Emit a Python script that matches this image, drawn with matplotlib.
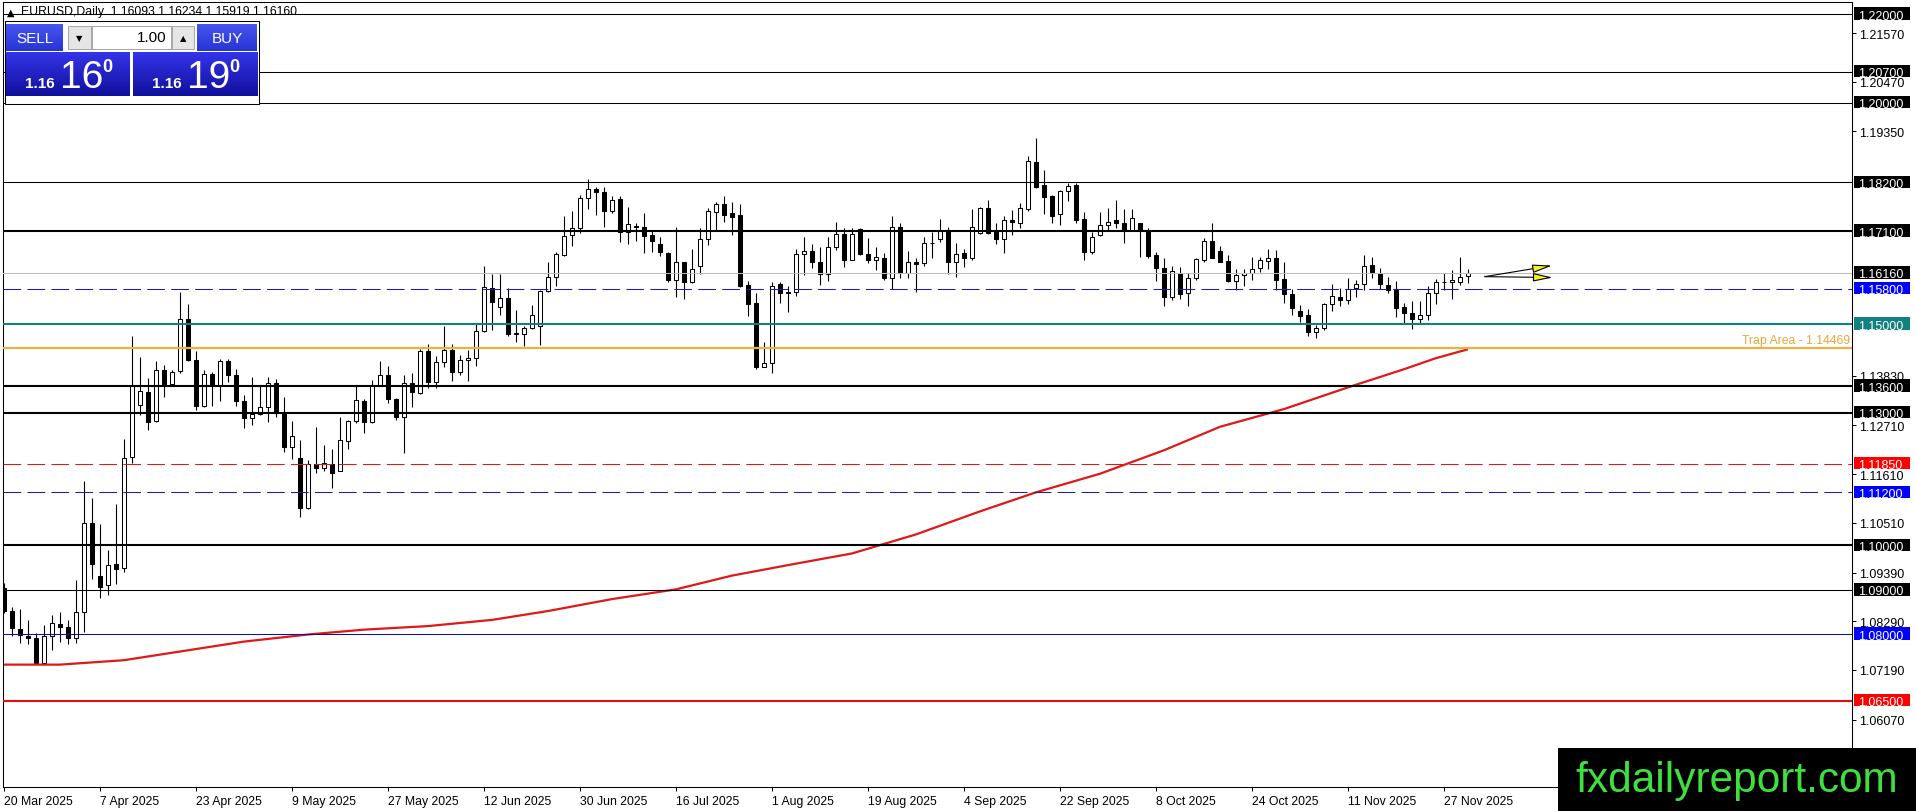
import numpy as np
import matplotlib
matplotlib.use("Agg")
import matplotlib.pyplot as plt
from matplotlib.patches import Rectangle, FancyArrowPatch
import matplotlib.transforms as mtrans

plt.rcParams['font.family'] = ['Liberation Sans', 'DejaVu Sans']

W, H = 1916, 812

# ---------------- data (EURUSD daily) ----------------
opens = [1.0904, 1.0851, 1.0811, 1.0796, 1.0791, 1.0734, 1.0796, 1.0823, 1.0816, 1.0791,
         1.0849, 1.1050, 1.0931, 1.0910, 1.0959, 1.0949, 1.1199, 1.1317, 1.1347, 1.1280,
         1.1397, 1.1364, 1.1395, 1.1511, 1.1419, 1.1314, 1.1387, 1.1362, 1.1417, 1.1385,
         1.1327, 1.1288, 1.1297, 1.1312, 1.1367, 1.1299, 1.1222, 1.1197, 1.1085, 1.1184,
         1.1174, 1.1185, 1.1168, 1.1237, 1.1280, 1.1327, 1.1278, 1.1361, 1.1385, 1.1331,
         1.1290, 1.1367, 1.1344, 1.1440, 1.1369, 1.1414, 1.1441, 1.1392, 1.1419, 1.1423,
         1.1484, 1.1582, 1.1539, 1.1559, 1.1478, 1.1478, 1.1490, 1.1495, 1.1575, 1.1606,
         1.1655, 1.1700, 1.1717, 1.1785, 1.1804, 1.1797, 1.1755, 1.1783, 1.1707, 1.1722,
         1.1718, 1.1700, 1.1680, 1.1661, 1.1600, 1.1639, 1.1594, 1.1631, 1.1691, 1.1752,
         1.1770, 1.1750, 1.1747, 1.1588, 1.1547, 1.1403, 1.1413, 1.1590, 1.1569, 1.1573,
         1.1657, 1.1664, 1.1639, 1.1613, 1.1673, 1.1704, 1.1645, 1.1714, 1.1659, 1.1645,
         1.1650, 1.1604, 1.1718, 1.1615, 1.1641, 1.1637, 1.1684, 1.1693, 1.1710, 1.1639,
         1.1661, 1.1648, 1.1705, 1.1761, 1.1710, 1.1693, 1.1734, 1.1729, 1.1759, 1.1865,
         1.1813, 1.1788, 1.1749, 1.1801, 1.1813, 1.1737, 1.1663, 1.1701, 1.1724, 1.1734,
         1.1729, 1.1712, 1.1727, 1.1710, 1.1655, 1.1627, 1.1562, 1.1616, 1.1569, 1.1603,
         1.1644, 1.1687, 1.1664, 1.1642, 1.1597, 1.1610, 1.1616, 1.1627, 1.1643, 1.1650,
         1.1601, 1.1568, 1.1530, 1.1520, 1.1481, 1.1490, 1.1546, 1.1560, 1.1554, 1.1582,
         1.1591, 1.1633, 1.1616, 1.1589, 1.1580, 1.1539, 1.1526, 1.1511, 1.1520, 1.1569,
         1.1594, 1.1596, 1.1594, 1.16093]
highs = [1.0915, 1.0861, 1.0856, 1.0831, 1.0802, 1.0821, 1.0843, 1.0849, 1.0831, 1.0922,
         1.1146, 1.1107, 1.1049, 1.0990, 1.1094, 1.1240, 1.1473, 1.1425, 1.1378, 1.1417,
         1.1408, 1.1397, 1.1573, 1.1546, 1.1440, 1.1397, 1.1391, 1.1422, 1.1421, 1.1399,
         1.1340, 1.1380, 1.1362, 1.1380, 1.1377, 1.1335, 1.1282, 1.1239, 1.1194, 1.1267,
         1.1228, 1.1218, 1.1290, 1.1284, 1.1362, 1.1331, 1.1374, 1.1417, 1.1406, 1.1332,
         1.1384, 1.1390, 1.1444, 1.1454, 1.1427, 1.1495, 1.1456, 1.1431, 1.1442, 1.1502,
         1.1632, 1.1614, 1.1614, 1.1582, 1.1531, 1.1495, 1.1544, 1.1576, 1.1641, 1.1663,
         1.1745, 1.1755, 1.1792, 1.1828, 1.1810, 1.1810, 1.1788, 1.1789, 1.1765, 1.1729,
         1.1750, 1.1713, 1.1697, 1.1663, 1.1720, 1.1640, 1.1670, 1.1716, 1.1761, 1.1776,
         1.1788, 1.1776, 1.1771, 1.1598, 1.1571, 1.1460, 1.1596, 1.1595, 1.1586, 1.1669,
         1.1697, 1.1680, 1.1675, 1.1697, 1.1731, 1.1716, 1.1716, 1.1716, 1.1695, 1.1673,
         1.1661, 1.1743, 1.1727, 1.1664, 1.1648, 1.1697, 1.1708, 1.1737, 1.1718, 1.1682,
         1.1669, 1.1759, 1.1765, 1.1780, 1.1729, 1.1744, 1.1758, 1.1774, 1.1880, 1.1919,
         1.1847, 1.1792, 1.1803, 1.1819, 1.1819, 1.1754, 1.1707, 1.1754, 1.1761, 1.1780,
         1.1759, 1.1759, 1.1729, 1.1716, 1.1663, 1.1648, 1.1631, 1.1629, 1.1615, 1.1649,
         1.1694, 1.1728, 1.1676, 1.1655, 1.1624, 1.1624, 1.1652, 1.1652, 1.1669, 1.1667,
         1.1639, 1.1578, 1.1542, 1.1533, 1.1497, 1.1548, 1.1590, 1.1582, 1.1605, 1.1599,
         1.1655, 1.1652, 1.1627, 1.1607, 1.1597, 1.1548, 1.1551, 1.1552, 1.1585, 1.1601,
         1.1616, 1.1622, 1.1652, 1.16234]
lows = [1.0848, 1.0796, 1.0779, 1.0778, 1.0733, 1.0731, 1.0763, 1.0781, 1.0778, 1.0779,
        1.0804, 1.0924, 1.0881, 1.0888, 1.0913, 1.0941, 1.1187, 1.1295, 1.1261, 1.1278,
        1.1335, 1.1362, 1.1389, 1.1416, 1.1306, 1.1312, 1.1314, 1.1327, 1.1368, 1.1314,
        1.1265, 1.1271, 1.1294, 1.1278, 1.1290, 1.1210, 1.1195, 1.1064, 1.1083, 1.1164,
        1.1169, 1.1130, 1.1168, 1.1217, 1.1277, 1.1254, 1.1277, 1.1359, 1.1322, 1.1283,
        1.1209, 1.1312, 1.1343, 1.1356, 1.1356, 1.1403, 1.1371, 1.1384, 1.1371, 1.1405,
        1.1481, 1.1487, 1.1521, 1.1472, 1.1459, 1.1450, 1.1489, 1.1452, 1.1573, 1.1587,
        1.1653, 1.1677, 1.1706, 1.1760, 1.1746, 1.1718, 1.1750, 1.1685, 1.1681, 1.1688,
        1.1660, 1.1663, 1.1654, 1.1594, 1.1562, 1.1557, 1.1592, 1.1612, 1.1678, 1.1710,
        1.1731, 1.1700, 1.1584, 1.1518, 1.1398, 1.1402, 1.1390, 1.1547, 1.1527, 1.1563,
        1.1610, 1.1627, 1.1588, 1.1597, 1.1667, 1.1629, 1.1644, 1.1655, 1.1637, 1.1622,
        1.1600, 1.1580, 1.1603, 1.1603, 1.1572, 1.1631, 1.1650, 1.1685, 1.1612, 1.1607,
        1.1629, 1.1645, 1.1703, 1.1703, 1.1680, 1.1660, 1.1700, 1.1716, 1.1755, 1.1808,
        1.1749, 1.1729, 1.1723, 1.1778, 1.1727, 1.1645, 1.1658, 1.1699, 1.1712, 1.1716,
        1.1684, 1.1710, 1.1652, 1.1648, 1.1597, 1.1541, 1.1554, 1.1557, 1.1541, 1.1600,
        1.1640, 1.1648, 1.1639, 1.1594, 1.1577, 1.1585, 1.1600, 1.1618, 1.1624, 1.1577,
        1.1547, 1.1520, 1.1505, 1.1472, 1.1469, 1.1487, 1.1530, 1.1541, 1.1545, 1.1560,
        1.1577, 1.1605, 1.1580, 1.1569, 1.1517, 1.1502, 1.1488, 1.1502, 1.1509, 1.1545,
        1.1577, 1.1556, 1.1588, 1.15919]
closes = [1.0851, 1.0813, 1.0798, 1.0790, 1.0734, 1.0796, 1.0825, 1.0816, 1.0791, 1.0849,
          1.1050, 1.0959, 1.0907, 1.0955, 1.0948, 1.1197, 1.1359, 1.1349, 1.1279, 1.1397,
          1.1364, 1.1391, 1.1511, 1.1418, 1.1314, 1.1387, 1.1359, 1.1417, 1.1384, 1.1327,
          1.1288, 1.1297, 1.1312, 1.1366, 1.1300, 1.1222, 1.1248, 1.1084, 1.1183, 1.1174,
          1.1186, 1.1164, 1.1238, 1.1280, 1.1329, 1.1278, 1.1362, 1.1385, 1.1331, 1.1290,
          1.1367, 1.1346, 1.1440, 1.1369, 1.1414, 1.1441, 1.1392, 1.1418, 1.1423, 1.1484,
          1.1584, 1.1549, 1.1559, 1.1478, 1.1479, 1.1491, 1.1521, 1.1575, 1.1606, 1.1658,
          1.1698, 1.1717, 1.1785, 1.1804, 1.1797, 1.1755, 1.1780, 1.1707, 1.1725, 1.1719,
          1.1699, 1.1688, 1.1663, 1.1600, 1.1639, 1.1595, 1.1624, 1.1693, 1.1755, 1.1770,
          1.1747, 1.1742, 1.1586, 1.1545, 1.1403, 1.1413, 1.1586, 1.1571, 1.1573, 1.1659,
          1.1664, 1.1640, 1.1613, 1.1673, 1.1704, 1.1645, 1.1704, 1.1658, 1.1645, 1.1651,
          1.1605, 1.1720, 1.1615, 1.1640, 1.1636, 1.1682, 1.1682, 1.1710, 1.1639, 1.1658,
          1.1648, 1.1718, 1.1763, 1.1705, 1.1693, 1.1734, 1.1731, 1.1761, 1.1867, 1.1810,
          1.1787, 1.1744, 1.1801, 1.1812, 1.1735, 1.1663, 1.1697, 1.1724, 1.1731, 1.1729,
          1.1712, 1.1740, 1.1712, 1.1654, 1.1627, 1.1561, 1.1620, 1.1567, 1.1605, 1.1646,
          1.1687, 1.1649, 1.1640, 1.1597, 1.1610, 1.1616, 1.1625, 1.1644, 1.1650, 1.1600,
          1.1568, 1.1536, 1.1518, 1.1481, 1.1490, 1.1546, 1.1563, 1.1554, 1.1580, 1.1591,
          1.1631, 1.1618, 1.1590, 1.1577, 1.1536, 1.1524, 1.1511, 1.1520, 1.1569, 1.1594,
          1.1596, 1.1599, 1.1607, 1.16160]

date_label_bars = [0, 12, 24, 36, 48, 60, 72, 84, 96, 108, 120, 132, 144, 156, 168, 180]
date_labels = ['20 Mar 2025', '7 Apr 2025', '23 Apr 2025', '9 May 2025', '27 May 2025',
               '12 Jun 2025', '30 Jun 2025', '16 Jul 2025', '1 Aug 2025', '19 Aug 2025',
               '4 Sep 2025', '22 Sep 2025', '8 Oct 2025', '24 Oct 2025', '11 Nov 2025',
               '27 Nov 2025']

ma_bars = [0, 7, 15, 30, 38, 45, 53, 61, 68, 76, 84, 91, 99, 106, 114, 122, 129, 137,
           145, 152, 160, 168, 175, 179, 183]
ma_values = [1.0731, 1.0731, 1.0741, 1.0783, 1.0799, 1.0810, 1.0818, 1.0832, 1.0852,
             1.0879, 1.0901, 1.0932, 1.0959, 1.0982, 1.1025, 1.1077, 1.1120, 1.1162,
             1.1215, 1.1268, 1.1308, 1.1357, 1.1398, 1.1423, 1.1443]

axis_tick_values = [1.21570, 1.20470, 1.19350, 1.13830, 1.12710, 1.11610, 1.10510,
                    1.09390, 1.08290, 1.07190, 1.06070]

level_prices = [1.22000, 1.20700, 1.20000, 1.18200, 1.17100, 1.16160, 1.15800, 1.15000,
                1.13600, 1.13000, 1.11850, 1.11200, 1.10000, 1.09000, 1.08000, 1.06500]
trap_price = 1.14469
trap_label = 'Trap Area - 1.14469'

arrow_start = (185.1, 1.1607)
arrow_ends = [(193.5, 1.1632), (193.6, 1.1605)]

title_text = 'EURUSD,Daily  1.16093 1.16234 1.15919 1.16160'

# ---------------- styles ----------------
BLACK = '#000000'
BLUE_DASH = '#1c1cb4'
TEAL = '#118080'
ORANGE = '#EEB040'
RED = '#FF0000'
level_style = {
    1.22000: (BLACK, 0.75, '-', BLACK),
    1.20700: (BLACK, 0.75, '-', BLACK),
    1.20000: (BLACK, 0.75, '-', BLACK),
    1.18200: (BLACK, 0.75, '-', BLACK),
    1.17100: (BLACK, 1.5, '-', BLACK),
    1.16160: ('#BDBDBD', 0.75, '-', BLACK),
    1.15800: (BLUE_DASH, 0.75, 'dash', '#0000FF'),
    1.15000: (TEAL, 1.5, '-', TEAL),
    1.13600: (BLACK, 1.5, '-', BLACK),
    1.13000: (BLACK, 1.5, '-', BLACK),
    1.11850: ('#E01818', 0.75, 'dash', RED),
    1.11200: (BLUE_DASH, 0.75, 'dash', '#0000FF'),
    1.10000: (BLACK, 1.5, '-', BLACK),
    1.09000: (BLACK, 0.75, '-', BLACK),
    1.08000: ('#1010A0', 0.75, '-', '#0000FF'),
    1.06500: ('#E01010', 1.5, '-', RED),
}

fig = plt.figure(figsize=(W / 100, H / 100), dpi=100)
fig.patch.set_facecolor('white')

AX_L, AX_R, AX_T, AX_B = 3, 1852, 3, 788
ax = fig.add_axes([AX_L / W, 1 - AX_B / H, (AX_R - AX_L) / W, (AX_B - AX_T) / H])
ax.set_facecolor('white')
XMIN, XMAX = -0.125, 231.0
YMIN, YMAX = 1.04547, 1.22271
ax.set_xlim(XMIN, XMAX)
ax.set_ylim(YMIN, YMAX)
for s in ax.spines.values():
    s.set_color('black')
    s.set_linewidth(0.75)

px_per_price = (AX_B - AX_T) / (YMAX - YMIN)

# candles
o = np.array(opens); h = np.array(highs); l = np.array(lows); c = np.array(closes)
x = np.arange(len(o))
ax.vlines(x, l, h, colors='black', linewidth=0.8, zorder=3)
bottoms = np.minimum(o, c)
heights = np.maximum(np.abs(c - o), 0.00004)
faces = ['white' if cc >= oo else 'black' for oo, cc in zip(o, c)]
ax.bar(x, heights, bottom=bottoms, width=0.58, color=faces, edgecolor='black',
       linewidth=0.75, zorder=4)

# moving average
ax.plot(ma_bars, ma_values, color='#E01818', linewidth=1.6, zorder=4.5,
        solid_capstyle='butt')

# horizontal levels
for p in level_prices:
    col, lw, ls, _ = level_style[p]
    if ls == 'dash':
        ax.axhline(p, color=col, linewidth=lw, linestyle=(0, (17, 6)), zorder=5)
    else:
        ax.axhline(p, color=col, linewidth=lw, linestyle='-', zorder=5)
ax.axhline(trap_price, color=ORANGE, linewidth=1.6, zorder=5)

# y axis (right)
ax.yaxis.tick_right()
ax.set_yticks(axis_tick_values)
ax.set_yticklabels([f'{v:.5f}' for v in axis_tick_values])
ax.tick_params(axis='y', direction='out', length=3, width=0.75, pad=2,
               labelsize=9, colors='black')

# x axis
ax.set_xticks(date_label_bars)
ax.set_xticklabels(date_labels)
ax.tick_params(axis='x', direction='out', length=3, width=0.75, pad=3,
               labelsize=8.8, colors='black')
for lbl in ax.get_xticklabels():
    lbl.set_horizontalalignment('left')

# right side level labels
trans = mtrans.blended_transform_factory(fig.transFigure, ax.transData)
box_h = 12.5 / px_per_price
for p in level_prices:
    _, _, _, bcol = level_style[p]
    ax.add_patch(Rectangle((1854 / W, p - box_h / 2 + 0.4 / px_per_price), 56 / W, box_h,
                           transform=trans, facecolor=bcol, edgecolor='none',
                           zorder=10, clip_on=False))
    ax.text(1858.5 / W, p, f'{p:.5f}', transform=trans, color='white', fontsize=9,
            ha='left', va='center_baseline', zorder=11, clip_on=False)

# trap area label
ax.text(1850 / W, trap_price + 1.5 / px_per_price, trap_label, transform=trans,
        color='#E9A63A', fontsize=8.8, ha='right', va='bottom', zorder=6)

# arrows
for end in arrow_ends:
    arr = FancyArrowPatch(arrow_start, end, arrowstyle='-|>,head_length=12,head_width=2.6',
                          mutation_scale=1, facecolor='#F2F21E', edgecolor='black',
                          linewidth=0.8, zorder=7, shrinkA=0, shrinkB=0)
    ax.add_patch(arr)


# ---------------- figure-level overlays ----------------
def frect(x0, y0, x1, y1, **kw):
    r = Rectangle((x0 / W, 1 - y1 / H), (x1 - x0) / W, (y1 - y0) / H,
                  transform=fig.transFigure, **kw)
    fig.add_artist(r)
    return r


def gradient_box(x0, y0, x1, y1, top, bottom, z):
    gax = fig.add_axes([x0 / W, 1 - y1 / H, (x1 - x0) / W, (y1 - y0) / H], zorder=z)
    t = np.array(matplotlib.colors.to_rgb(top))
    b = np.array(matplotlib.colors.to_rgb(bottom))
    f = np.linspace(0, 1, 64)[:, None, None]
    img = t * (1 - f) + b * f
    gax.imshow(img, aspect='auto', extent=(0, 1, 0, 1))
    gax.set_axis_off()
    return gax


# title
fig.text(7 / W, 1 - 12.5 / H, '▲', fontsize=7, color='black', va='center', ha='left',
         family=['DejaVu Sans'], zorder=30)
fig.text(21 / W, 1 - 12 / H, title_text, fontsize=8.8, color='black', va='center',
         ha='left', zorder=30)

# trading panel
frect(5, 22, 258.5, 104.5, facecolor='white', edgecolor='black', linewidth=0.75, zorder=20)
gradient_box(6, 25, 63, 52, '#4656EE', '#2634D4', 21)
gradient_box(197, 25, 257, 52, '#4656EE', '#2634D4', 21)
frect(68, 27, 91, 50, facecolor='#E6E6E6', edgecolor='#A8A8A8', linewidth=0.75, zorder=22)
frect(92, 27, 171, 50, facecolor='white', edgecolor='#A8A8A8', linewidth=0.75, zorder=22)
frect(172, 27, 194, 50, facecolor='#E6E6E6', edgecolor='#A8A8A8', linewidth=0.75, zorder=22)
gradient_box(6, 53, 130, 97, '#3434EA', '#10109C', 21)
gradient_box(133, 53, 258, 97, '#3434EA', '#10109C', 21)
frect(10, 51.5, 62, 52.3, facecolor='#9AA6FF', edgecolor='none', zorder=23)
frect(200, 51.5, 255, 52.3, facecolor='#9AA6FF', edgecolor='none', zorder=23)

fig.text(35 / W, 1 - 39 / H, 'SELL', fontsize=11, color='white', ha='center',
         va='center', zorder=30)
fig.text(227 / W, 1 - 39 / H, 'BUY', fontsize=11, color='white', ha='center',
         va='center', zorder=30)
fig.text(79.5 / W, 1 - 38.5 / H, '▼', fontsize=6, color='black', ha='center',
         va='center', family=['DejaVu Sans'], zorder=30)
fig.text(183 / W, 1 - 38.5 / H, '▲', fontsize=6, color='black', ha='center',
         va='center', family=['DejaVu Sans'], zorder=30)
fig.text(167 / W, 1 - 38.5 / H, '1.00', fontsize=11, color='black', ha='right',
         va='center', zorder=30)

for bx, big in ((0, '16'), (127, '19')):
    fig.text((25 + bx) / W, 1 - 88 / H, '1.16', fontsize=11, color='white',
             fontweight='bold', ha='left', va='baseline', zorder=30)
    fig.text((60 + bx) / W, 1 - 88 / H, big, fontsize=28, color='white',
             ha='left', va='baseline', zorder=30)
    fig.text((102 + bx) / W, 1 - 72 / H, '0', fontsize=13, color='white',
             fontweight='bold', ha='left', va='baseline', zorder=30)

# watermark
frect(1558, 749, W + 1, H + 1, facecolor='black', edgecolor='none', zorder=40)
fig.text(1575 / W, 1 - 792 / H, 'fxdailyreport.com', fontsize=30.5, color='#3DE03D',
         ha='left', va='baseline', zorder=41)

fig.savefig('out.png', dpi=100, facecolor='white')
